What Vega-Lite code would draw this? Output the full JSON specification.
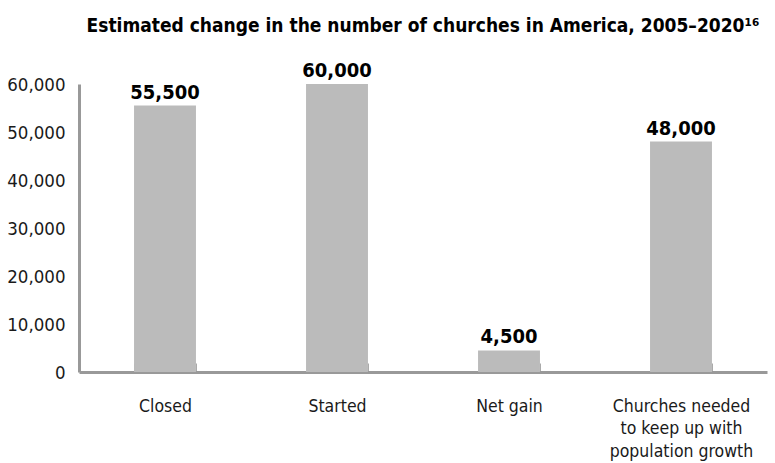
{
  "$schema": "https://vega.github.io/schema/vega-lite/v6.json",
  "autosize": "none",
  "width": 688,
  "height": 288,
  "padding": {"left": 79, "top": 84, "right": 8, "bottom": 91},
  "background": "white",
  "title": {
    "text": "Estimated change in the number of churches in America, 2005–2020¹⁶",
    "font": "DejaVu Sans Condensed",
    "fontSize": 19,
    "fontWeight": "bold",
    "color": "#000000",
    "anchor": "middle",
    "offset": 25
  },
  "data": {
    "values": [
      {"category": "Closed", "value": 55500, "label": "55,500"},
      {"category": "Started", "value": 60000, "label": "60,000"},
      {"category": "Net gain", "value": 4500, "label": "4,500"},
      {"category": "\u2007\u2007\u2007\u2007\u2007\u2007Churches needed|\u2007\u2007\u2007\u2007\u2007\u2007to keep up with|\u2007\u2007\u2007\u2007\u2007\u2007population growth", "value": 48000, "label": "48,000"}
    ]
  },
  "encoding": {
    "x": {
      "field": "category",
      "type": "nominal",
      "sort": null,
      "scale": {"paddingInner": 0.64, "paddingOuter": 0.32},
      "axis": {
        "title": null,
        "labelAngle": 0,
        "labelExpr": "split(datum.label, '|')",
        "labelFont": "DejaVu Sans Condensed",
        "labelFontSize": 17.5,
        "labelColor": "#1a1a1a",
        "labelLineHeight": 22.5,
        "labelPadding": 34,
        "domainColor": "#999999",
        "domainWidth": 3,
        "tickColor": "#aaaaaa",
        "tickWidth": 1,
        "tickSize": -9,
        "tickBand": "extent",
        "grid": false
      }
    },
    "y": {
      "field": "value",
      "type": "quantitative",
      "scale": {"domain": [0, 60000]},
      "axis": {
        "title": null,
        "values": [0, 10000, 20000, 30000, 40000, 50000, 60000],
        "format": ",d",
        "labelFont": "DejaVu Sans Condensed",
        "labelFontSize": 18.5,
        "labelColor": "#1a1a1a",
        "labelPadding": 14,
        "ticks": false,
        "domainColor": "#999999",
        "domainWidth": 3,
        "grid": false
      }
    }
  },
  "layer": [
    {"mark": {"type": "bar", "color": "#bbbbbb"}},
    {
      "mark": {
        "type": "text",
        "baseline": "alphabetic",
        "dy": -7,
        "font": "DejaVu Sans Condensed",
        "fontSize": 20,
        "fontWeight": "bold",
        "color": "#000000"
      },
      "encoding": {"text": {"field": "label"}}
    }
  ],
  "config": {"view": {"stroke": null}}
}
